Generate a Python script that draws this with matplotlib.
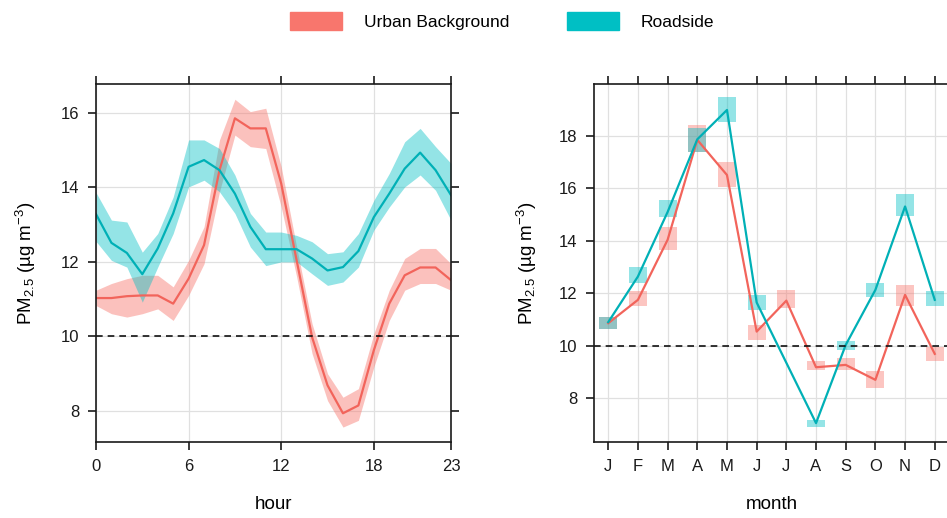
import matplotlib
matplotlib.use('Agg')
import matplotlib.pyplot as plt
import numpy as np
from matplotlib.patches import Patch

plt.rcParams['font.family'] = ['Liberation Sans', 'DejaVu Sans']
plt.rcParams['mathtext.fontset'] = 'custom'
plt.rcParams['mathtext.rm'] = 'Liberation Sans'
plt.rcParams['mathtext.it'] = 'Liberation Sans:italic'

# ---- data ----
hours = np.arange(24)
rs_mean = [13.28, 12.51, 12.24, 11.67, 12.36, 13.30, 14.55, 14.73, 14.46, 13.83, 12.94, 12.34,
           12.34, 12.34, 12.09, 11.77, 11.86, 12.29, 13.20, 13.83, 14.50, 14.93, 14.46, 13.79]
rs_lo = [12.55, 12.04, 11.86, 10.92, 11.86, 12.76, 14.01, 14.19, 13.88, 13.30, 12.40, 11.90,
         12.00, 12.00, 11.68, 11.37, 11.46, 11.86, 12.85, 13.47, 14.01, 14.33, 13.92, 13.12]
rs_hi = [13.86, 13.12, 13.07, 12.26, 12.76, 13.74, 15.27, 15.27, 15.04, 14.33, 13.30, 12.80,
         12.80, 12.71, 12.54, 12.22, 12.27, 12.76, 13.65, 14.37, 15.22, 15.58, 15.09, 14.64]
ub_mean = [11.03, 11.03, 11.08, 11.10, 11.10, 10.88, 11.55, 12.45, 14.46, 15.85, 15.58, 15.58,
           14.10, 12.04, 9.98, 8.69, 7.94, 8.15, 9.63, 10.88, 11.64, 11.85, 11.85, 11.51]
ub_lo = [10.83, 10.61, 10.52, 10.61, 10.74, 10.43, 11.10, 11.95, 13.88, 15.40, 15.09, 15.04,
         13.47, 11.60, 9.54, 8.28, 7.57, 7.75, 9.18, 10.43, 11.24, 11.42, 11.42, 11.24]
ub_hi = [11.24, 11.42, 11.55, 11.64, 11.64, 11.33, 12.04, 12.94, 15.27, 16.36, 16.03, 16.12,
         14.55, 12.40, 10.34, 9.00, 8.37, 8.60, 10.07, 11.24, 12.09, 12.36, 12.36, 11.95]

months = np.arange(1, 13)
month_labels = ['J', 'F', 'M', 'A', 'M', 'J', 'J', 'A', 'S', 'O', 'N', 'D']
ub_m_mean = np.array([10.86, 11.75, 14.04, 17.85, 16.51, 10.54, 11.72, 9.18, 9.27, 8.70, 11.94, 9.69])
ub_m_lo = np.array([10.63, 11.50, 13.65, 17.40, 16.07, 10.22, 11.43, 9.08, 9.08, 8.38, 11.50, 9.40])
ub_m_hi = np.array([11.11, 12.07, 14.54, 18.42, 17.02, 10.80, 12.13, 9.40, 9.52, 9.02, 12.32, 9.97])
rs_m_mean = np.array([10.90, 12.64, 15.10, 17.87, 18.99, 11.65, np.nan, 7.05, 10.03, 12.13, 15.31, 11.75])
rs_m_lo = np.array([10.63, 12.41, 14.92, 17.40, 18.55, 11.37, np.nan, 6.92, 9.84, 11.85, 14.93, 11.50])
rs_m_hi = np.array([11.11, 13.02, 15.56, 18.29, 19.47, 11.94, np.nan, 7.17, 10.19, 12.38, 15.78, 12.07])

who_limit = 10

red, teal = '#F8766D', '#00BFC4'
red_line, teal_line = '#F2645B', '#00B0B6'
ylab = 'PM$_{2.5}$ (\u00b5g m$^{-3}$)'

fig = plt.figure(figsize=(9.47, 5.18), dpi=100)
ax1 = fig.add_axes([96 / 947, 76 / 518, 355 / 947, 358 / 518])
ax2 = fig.add_axes([594 / 947, 76 / 518, 355 / 947, 358 / 518])

def style(ax):
    for s in ax.spines.values():
        s.set_color('#1a1a1a'); s.set_linewidth(1.2)
    ax.tick_params(direction='out', length=6, width=1.2, color='#1a1a1a', labelsize=12,
                   pad=6, top=True, right=True, labelcolor='#1a1a1a')
    ax.grid(True, color='#E0E0E0', lw=0.9)
    ax.set_axisbelow(True)

# hour panel
style(ax1)
ax1.fill_between(hours, ub_lo, ub_hi, color=red, alpha=0.45, lw=0)
ax1.fill_between(hours, rs_lo, rs_hi, color=teal, alpha=0.42, lw=0)
ax1.plot(hours, ub_mean, color=red_line, lw=1.6)
ax1.plot(hours, rs_mean, color=teal_line, lw=1.6)
ax1.axhline(who_limit, color='#111111', lw=1.2, ls=(0, (4, 3)))
ax1.set_xlim(0, 23)
ax1.set_ylim(7.17, 16.77)
ax1.set_xticks([0, 6, 12, 18, 23])
ax1.set_yticks([8, 10, 12, 14, 16])
ax1.set_xlabel('hour', fontsize=13.5)
ax1.set_ylabel(ylab, fontsize=13.5)
ax1.xaxis.set_label_coords(0.5, -0.15)
ax1.yaxis.set_label_coords(-0.163, 0.5)

# month panel
style(ax2)
ax2.bar(months, ub_m_hi - ub_m_lo, bottom=ub_m_lo, width=0.6, color=red, alpha=0.42, lw=0)
ax2.bar(months, rs_m_hi - rs_m_lo, bottom=rs_m_lo, width=0.6, color=teal, alpha=0.42, lw=0)
ax2.plot(months, ub_m_mean, color=red_line, lw=1.6)
ok = ~np.isnan(rs_m_mean)
ax2.plot(months[ok], rs_m_mean[ok], color=teal_line, lw=1.6)
ax2.axhline(who_limit, color='#111111', lw=1.2, ls=(0, (4, 3)))
ax2.set_xlim(0.52, 12.48)
ax2.set_ylim(6.33, 19.98)
ax2.set_xticks(months)
ax2.set_xticklabels(month_labels)
ax2.set_yticks([8, 10, 12, 14, 16, 18])
ax2.set_xlabel('month', fontsize=13.5)
ax2.set_ylabel(ylab, fontsize=13.5)
ax2.xaxis.set_label_coords(0.5, -0.15)
ax2.yaxis.set_label_coords(-0.155, 0.5)

handles = [Patch(color=red), Patch(color=teal)]
fig.legend(handles, ['Urban Background', 'Roadside'], loc='center',
           bbox_to_anchor=(502 / 947, 1 - 21 / 518), ncol=2, frameon=False,
           handlelength=3.0, handleheight=1.3, handletextpad=1.25,
           columnspacing=3.3, fontsize=12.5)

fig.savefig('out.png', dpi=100)
